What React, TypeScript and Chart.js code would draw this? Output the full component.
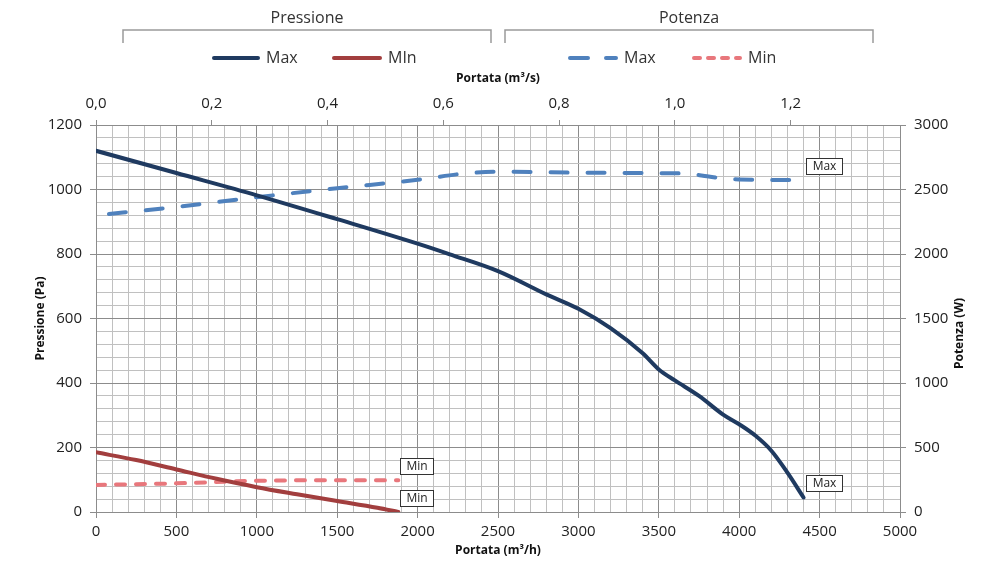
import { useEffect, useRef } from "react";
import { Chart, registerables } from "chart.js";

Chart.register(...registerables);

// ---- data (Portata m³/h vs values) ----
const FLOW_PRESS_MAX = [0, 500, 1000, 1500, 2000, 2200, 2500, 2800, 3000, 3200, 3400, 3500, 3600, 3750, 3900, 4000, 4100, 4200, 4300, 4400];
const PRESS_MAX = [1120, 1051, 982, 908, 832, 799, 747, 675, 630, 570, 492, 442, 408, 360, 302, 272, 237, 190, 122, 45];

const FLOW_PRESS_MIN = [0, 250, 500, 750, 1000, 1250, 1500, 1750, 1880];
const PRESS_MIN = [185, 161, 132, 103, 77, 55, 34, 13, 0];

const FLOW_POWER_MAX = [0, 500, 1000, 1500, 2000, 2300, 2500, 3000, 3500, 3700, 3800, 3900, 4000, 4400];
const POWER_MAX = [2300, 2365, 2440, 2510, 2575, 2625, 2638, 2630, 2627, 2620, 2602, 2585, 2578, 2573];

const FLOW_POWER_MIN = [0, 500, 1000, 1500, 1880];
const POWER_MIN = [210, 222, 242, 246, 246];

const BOTTOM_TICKS = [0, 500, 1000, 1500, 2000, 2500, 3000, 3500, 4000, 4500, 5000];
const LEFT_TICKS = [0, 200, 400, 600, 800, 1000, 1200];
const RIGHT_TICKS = [0, 500, 1000, 1500, 2000, 2500, 3000];
const TOP_TICKS = [0, 0.2, 0.4, 0.6, 0.8, 1.0, 1.2];

const GROUPS = ["Pressione", "Potenza"];
const SERIES_LABELS = ["Max", "MIn", "Max", "Min"];
const END_LABELS = ["Max", "Min", "Max", "Min"];

const NAVY = "#1f3a60";
const RED = "#a23e3e";
const BLUE = "#4f81bd";
const PINK = "#e8777c";
const MAJOR = "#8c8c8c";
const MINOR = "#c0c0c0";
const FONT = '"Open Sans", "DejaVu Sans", sans-serif';

const toPts = (xs: number[], ys: number[]) => xs.map((x, i) => ({ x, y: ys[i] }));

const endLabelPlugin = {
  id: "endLabels",
  afterDatasetsDraw(chart: any) {
    const ctx = chart.ctx as CanvasRenderingContext2D;
    chart.data.datasets.forEach((ds: any, i: number) => {
      const meta = chart.getDatasetMeta(i);
      const pt = meta.data[meta.data.length - 1];
      if (!pt) return;
      const label = END_LABELS[i];
      ctx.save();
      ctx.font = `12px ${FONT}`;
      const w = Math.round(ctx.measureText(label).width + 12);
      const h = 16;
      const x = Math.round(pt.x + 2);
      const y = Math.round(pt.y - 6 - h);
      ctx.fillStyle = "#ffffff";
      ctx.fillRect(x, y, w, h);
      ctx.strokeStyle = "#333333";
      ctx.lineWidth = 1;
      ctx.strokeRect(x + 0.5, y + 0.5, w, h);
      ctx.fillStyle = "#222222";
      ctx.textBaseline = "middle";
      ctx.textAlign = "center";
      ctx.fillText(label, x + w / 2 + 0.5, y + h / 2 + 1);
      ctx.restore();
    });
  },
};

const headerPlugin = {
  id: "header",
  afterDraw(chart: any) {
    const ctx = chart.ctx as CanvasRenderingContext2D;
    const ca = chart.chartArea;
    ctx.save();
    const brackets = [
      [123, 491],
      [505, 873],
    ];
    ctx.strokeStyle = "#9a9a9a";
    ctx.lineWidth = 1.5;
    brackets.forEach(([a, b], gi) => {
      ctx.beginPath();
      ctx.moveTo(a, 43);
      ctx.lineTo(a, 30);
      ctx.lineTo(b, 30);
      ctx.lineTo(b, 43);
      ctx.stroke();
      ctx.fillStyle = "#333333";
      ctx.font = `16px ${FONT}`;
      ctx.textAlign = "center";
      ctx.textBaseline = "middle";
      ctx.fillText(GROUPS[gi], (a + b) / 2, 18);
    });
    const items = [
      { x0: 214, x1: 258, color: NAVY, dash: [] as number[] },
      { x0: 334, x1: 380, color: RED, dash: [] as number[] },
      { x0: 570, x1: 616, color: BLUE, dash: [18, 18] },
      { x0: 694, x1: 740, color: PINK, dash: [6, 8] },
    ];
    items.forEach((it, i) => {
      ctx.beginPath();
      ctx.strokeStyle = it.color;
      ctx.lineWidth = 4;
      ctx.lineCap = "round";
      ctx.setLineDash(it.dash);
      ctx.moveTo(it.x0, 58);
      ctx.lineTo(it.x1, 58);
      ctx.stroke();
      ctx.setLineDash([]);
      ctx.fillStyle = "#333333";
      ctx.font = `16px ${FONT}`;
      ctx.textAlign = "left";
      ctx.textBaseline = "middle";
      ctx.fillText(SERIES_LABELS[i], it.x1 + 8, 58);
    });
    // right axis title (reads bottom to top)
    ctx.save();
    ctx.translate(960, (ca.top + ca.bottom) / 2 + 15);
    ctx.rotate(-Math.PI / 2);
    ctx.font = `bold 12px ${FONT}`;
    ctx.fillStyle = "#111111";
    ctx.textAlign = "center";
    ctx.textBaseline = "middle";
    ctx.fillText("Potenza (W)", 0, 0);
    ctx.restore();
    ctx.restore();
  },
};

export default function App() {
  const ref = useRef<HTMLCanvasElement | null>(null);

  useEffect(() => {
    document.body.style.margin = "0";
    if (!ref.current) return;
    const tickFont = { family: FONT, size: 15 };
    const titleFont = { family: FONT, size: 12, weight: "bold" as const };
    const chart = new Chart(ref.current, {
      type: "line",
      data: {
        datasets: [
          {
            label: "Pressione Max",
            data: toPts(FLOW_PRESS_MAX, PRESS_MAX),
            borderColor: NAVY,
            borderWidth: 4,
            pointRadius: 0,
            cubicInterpolationMode: "monotone",
            borderCapStyle: "round",
            yAxisID: "y",
            xAxisID: "x",
          },
          {
            label: "Pressione MIn",
            data: toPts(FLOW_PRESS_MIN, PRESS_MIN),
            borderColor: RED,
            borderWidth: 4,
            pointRadius: 0,
            cubicInterpolationMode: "monotone",
            borderCapStyle: "round",
            yAxisID: "y",
            xAxisID: "x",
          },
          {
            label: "Potenza Max",
            data: toPts(FLOW_POWER_MAX, POWER_MAX),
            borderColor: BLUE,
            borderWidth: 4,
            borderDash: [17, 20],
            borderDashOffset: 24,
            borderCapStyle: "round",
            pointRadius: 0,
            cubicInterpolationMode: "monotone",
            yAxisID: "y1",
            xAxisID: "x",
          },
          {
            label: "Potenza Min",
            data: toPts(FLOW_POWER_MIN, POWER_MIN),
            borderColor: PINK,
            borderWidth: 4,
            borderDash: [9, 11],
            borderCapStyle: "round",
            pointRadius: 0,
            cubicInterpolationMode: "monotone",
            yAxisID: "y1",
            xAxisID: "x",
          },
        ],
      },
      options: {
        responsive: false,
        animation: false,
        devicePixelRatio: 1,
        layout: { padding: { top: 66, left: 0, right: 0, bottom: 0 } },
        plugins: { legend: { display: false }, tooltip: { enabled: false } },
        scales: {
          x: {
            type: "linear",
            position: "bottom",
            min: 0,
            max: 5000,
            afterFit: (s: any) => {
              s.height = 65;
            },
            ticks: {
              stepSize: 100,
              autoSkip: false,
              maxRotation: 0,
              padding: 5,
              color: "#222",
              font: tickFont,
              callback: (v: any) => (BOTTOM_TICKS.includes(Number(v)) ? String(v) : ""),
            },
            grid: {
              color: (c: any) => (c.tick && c.tick.value % 500 === 0 ? MAJOR : MINOR),
              tickColor: (c: any) => (c.tick && c.tick.value % 500 === 0 ? MAJOR : "transparent"),
              tickLength: 6,
              lineWidth: 1,
            },
            border: { color: MAJOR },
            title: {
              display: true,
              text: "Portata (m³/h)",
              color: "#111",
              font: titleFont,
              padding: { top: 0, bottom: 19 },
            },
          },
          x2: {
            type: "linear",
            position: "top",
            min: 0,
            max: 5000 / 3600,
            afterBuildTicks: (s: any) => {
              s.ticks = TOP_TICKS.map((v) => ({ value: v }));
            },
            afterFit: (s: any) => {
              s.height = 59;
            },
            ticks: {
              autoSkip: false,
              maxRotation: 0,
              padding: 7,
              color: "#222",
              font: tickFont,
              callback: (v: any) => Number(v).toFixed(1).replace(".", ","),
            },
            grid: {
              drawOnChartArea: false,
              tickColor: MAJOR,
              tickLength: 5,
            },
            border: { color: MAJOR },
            title: {
              display: true,
              text: "Portata (m³/s)",
              color: "#111",
              font: titleFont,
              padding: { top: 5, bottom: 0 },
            },
          },
          y: {
            type: "linear",
            position: "left",
            min: 0,
            max: 1200,
            afterFit: (s: any) => {
              s.width = 96;
            },
            ticks: {
              stepSize: 40,
              autoSkip: false,
              padding: 8,
              color: "#222",
              font: tickFont,
              callback: (v: any) => (LEFT_TICKS.includes(Number(v)) ? String(v) : ""),
            },
            grid: {
              color: (c: any) => (c.tick && c.tick.value % 200 === 0 ? MAJOR : MINOR),
              tickColor: (c: any) => (c.tick && c.tick.value % 200 === 0 ? MAJOR : "transparent"),
              tickLength: 6,
              lineWidth: 1,
            },
            border: { color: MAJOR },
            title: {
              display: true,
              text: "Pressione (Pa)",
              color: "#111",
              font: titleFont,
              padding: { top: 33, bottom: 0 },
            },
          },
          y1: {
            type: "linear",
            position: "right",
            min: 0,
            max: 3000,
            afterBuildTicks: (s: any) => {
              s.ticks = RIGHT_TICKS.map((v) => ({ value: v }));
            },
            afterFit: (s: any) => {
              s.width = 94;
            },
            ticks: {
              autoSkip: false,
              padding: 8,
              color: "#222",
              font: tickFont,
              callback: (v: any) => String(v),
            },
            grid: {
              drawOnChartArea: false,
              tickColor: MAJOR,
              tickLength: 6,
            },
            border: { color: MAJOR },
            title: { display: false },
          },
        },
      },
      plugins: [endLabelPlugin, headerPlugin],
    });
    return () => chart.destroy();
  }, []);

  return (
    <div style={{ width: 994, height: 577, background: "#fff" }}>
      <canvas ref={ref} width={994} height={577} style={{ display: "block" }} />
    </div>
  );
}
